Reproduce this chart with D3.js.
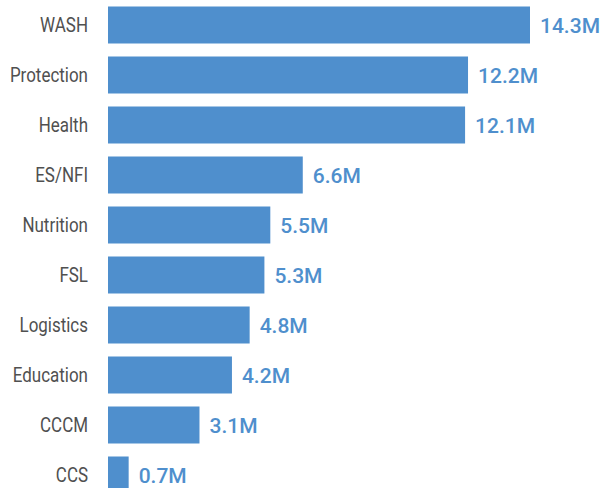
<!DOCTYPE html>
<html>
<head>
<meta charset="utf-8">
<script src="https://cdn.jsdelivr.net/npm/d3@7"></script>
<style>
  html, body { margin: 0; padding: 0; background: #fff; }
  svg { display: block; }
</style>
</head>
<body>
<svg id="chart" width="603" height="488"></svg>
<script>
const categories = ["WASH", "Protection", "Health", "ES/NFI", "Nutrition", "FSL", "Logistics", "Education", "CCCM", "CCS"];
const values = [14.3, 12.2, 12.1, 6.6, 5.5, 5.3, 4.8, 4.2, 3.1, 0.7];
const valueLabels = ["14.3M", "12.2M", "12.1M", "6.6M", "5.5M", "5.3M", "4.8M", "4.2M", "3.1M", "0.7M"];

const data = categories.map((c, i) => ({ cat: c, v: values[i], label: valueLabels[i] }));

const svg = d3.select("#chart");
const barColor = "#4f8fcd";

const x = d3.scaleLinear().domain([0, d3.max(values)]).range([108, 530]);
const y = d3.scaleBand().domain(categories).range([0, 500]).paddingInner(0.26).paddingOuter(0.13);

svg.selectAll("rect.bar").data(data).enter().append("rect")
  .attr("class", "bar")
  .attr("x", x(0))
  .attr("y", d => y(d.cat))
  .attr("width", d => x(d.v) - x(0))
  .attr("height", y.bandwidth())
  .attr("fill", barColor);

svg.selectAll("text.cat").data(data).enter().append("text")
  .attr("class", "cat")
  .attr("transform", d => `translate(88,${y(d.cat) + y.bandwidth() / 2}) scale(0.87,1)`)
  .attr("text-anchor", "end")
  .attr("dy", "0.35em")
  .style("font-family", "Roboto, sans-serif")
  .style("font-size", "19.5px")
  .attr("fill", "#505050")
  .text(d => d.cat);

svg.selectAll("text.val").data(data).enter().append("text")
  .attr("class", "val")
  .attr("x", d => x(d.v) + 10)
  .attr("y", d => y(d.cat) + y.bandwidth() / 2)
  .attr("dy", "0.38em")
  .style("font-family", "Roboto, sans-serif")
  .style("font-size", "21px")
  .style("font-weight", "500")
  .attr("fill", barColor)
  .text(d => d.label);
</script>
</body>
</html>
